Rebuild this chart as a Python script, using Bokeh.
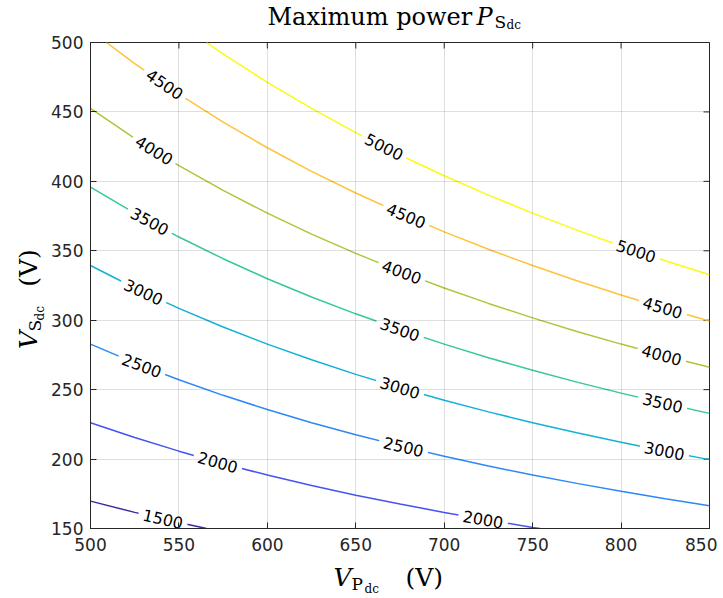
import math
import numpy as np
from bokeh.plotting import figure
from bokeh.layouts import column, row
from bokeh.models import FixedTicker, Range1d
from bokeh.core.properties import value
from bokeh.embed import file_html
from bokeh.resources import INLINE

# ---------------- data ----------------
levels = [1500, 2000, 2500, 3000, 3500, 4000, 4500, 5000]
level_colors = ["#3E26A8", "#4852F4", "#2E87F7", "#12B1D6",
                "#37C897", "#ABC739", "#FEC338", "#F9FB14"]

vp_full = [500, 525, 550, 575, 600, 625, 650, 675, 700, 725, 750, 775, 800, 825, 850]

vp_1500 = [500, 525, 550, 565.6]
vs_1500 = [169.7, 161.6, 154.3, 150.0]
vp_2000 = [500, 525, 550, 575, 600, 625, 650, 675, 700, 725, 750, 754.1]
vs_2000 = [226.2, 215.5, 205.7, 196.7, 188.5, 181.0, 174.0, 167.6, 161.6, 156.0, 150.8, 150.0]
vs_2500 = [282.8, 269.3, 257.1, 245.9, 235.7, 226.2, 217.5, 209.5, 202.0, 195.0, 188.5, 182.5, 176.8, 171.4, 166.4]
vs_3000 = [339.4, 323.2, 308.5, 295.1, 282.8, 271.5, 261.0, 251.4, 242.4, 234.0, 226.2, 218.9, 212.1, 205.7, 199.6]
vs_3500 = [395.9, 377.1, 359.9, 344.3, 329.9, 316.7, 304.6, 293.3, 282.8, 273.0, 263.9, 255.4, 247.5, 240.0, 232.9]
vs_4000 = [452.5, 430.9, 411.3, 393.5, 377.1, 362.0, 348.1, 335.2, 323.2, 312.1, 301.7, 291.9, 282.8, 274.2, 266.2]
vp_4500 = [509.0, 525, 550, 575, 600, 625, 650, 675, 700, 725, 750, 775, 800, 825, 850]
vs_4500 = [500.0, 484.8, 462.8, 442.6, 424.2, 407.2, 391.6, 377.1, 363.6, 351.1, 339.4, 328.4, 318.2, 308.5, 299.4]
vp_5000 = [565.6, 575, 600, 625, 650, 675, 700, 725, 750, 775, 800, 825, 850]
vs_5000 = [500.0, 491.8, 471.3, 452.5, 435.1, 419.0, 404.0, 390.1, 377.1, 364.9, 353.5, 342.8, 332.7]

# inline contour labels: level and V_Pdc position
label_levels = [1500, 2000, 2500, 3000, 3500, 4000, 4500,
                5000, 4500, 4000, 3500, 3000, 2500, 2000,
                5000, 4500, 4000, 3500, 3000]
label_vp = [541, 572, 529, 530, 533.5, 536, 542,
            666, 678.5, 676, 675, 675, 677, 722,
            808.5, 823.5, 823, 823.5, 824.5]

x_ticks = [500, 550, 600, 650, 700, 750, 800, 850]
y_ticks = [150, 200, 250, 300, 350, 400, 450, 500]

lines = {
    1500: (vp_1500, vs_1500),
    2000: (vp_2000, vs_2000),
    2500: (vp_full, vs_2500),
    3000: (vp_full, vs_3000),
    3500: (vp_full, vs_3500),
    4000: (vp_full, vs_4000),
    4500: (vp_4500, vs_4500),
    5000: (vp_5000, vs_5000),
}

# ---------------- layout sizes (px) ----------------
TOTAL_W = 716
TOP_H = 32          # title strip
LEFT_W = 48         # y-label strip
FW, FH = 619, 486   # plot frame
BL, BR, BT, BB = 41, 8, 10, 30
P_W = BL + FW + BR
P_H = BT + FH + BB
BOT_H = 38          # x-label strip

X0, X1, Y0, Y1 = 500, 850, 150, 500
sx = FW / (X1 - X0)
sy = FH / (Y1 - Y0)
TICK = 6  # px, inward ticks

AX = "#262626"
SERIF = "DejaVu Serif"

# ---------------- main plot ----------------
p = figure(x_range=(X0, X1), y_range=(Y0, Y1),
           frame_width=FW, frame_height=FH,
           min_border_left=BL, min_border_right=BR,
           min_border_top=BT, min_border_bottom=BB,
           title=None, output_backend="svg", toolbar_location=None)
p.background_fill_color = "white"
p.border_fill_color = "white"
p.outline_line_color = AX
p.outline_line_width = 1

for ax in (p.xaxis[0], p.yaxis[0]):
    ax.major_tick_in = TICK
    ax.major_tick_out = 0
    ax.minor_tick_in = 0
    ax.minor_tick_out = 0
    ax.axis_line_color = AX
    ax.major_tick_line_color = AX
    ax.major_label_text_color = AX
    ax.major_label_text_font = "DejaVu Sans"
    ax.major_label_text_font_size = "17px"
p.xaxis[0].ticker = FixedTicker(ticks=x_ticks)
p.yaxis[0].ticker = FixedTicker(ticks=y_ticks)
p.xaxis[0].major_label_standoff = 9
p.yaxis[0].major_label_standoff = 7

p.xgrid.ticker = FixedTicker(ticks=x_ticks)
p.ygrid.ticker = FixedTicker(ticks=y_ticks)
p.grid.grid_line_color = AX
p.grid.grid_line_alpha = 0.15
p.grid.grid_line_width = 1
p.grid.level = "overlay"

# inward ticks on the top and right edges of the box (from the tick lists)
p.segment(x_ticks, [Y1] * len(x_ticks), x_ticks, [Y1 - TICK / sy] * len(x_ticks),
          line_color=AX, line_width=1)
p.segment([X1] * len(y_ticks), y_ticks, [X1 - TICK / sx] * len(y_ticks), y_ticks,
          line_color=AX, line_width=1)

for lev, col in zip(levels, level_colors):
    xs, ys = lines[lev]
    p.line(xs, ys, line_color=col, line_width=1.5)

lx, ly, la, lt = [], [], [], []
mx0, my0, mx1, my1 = [], [], [], []
HALF = 25  # px half-length of the gap in the line
for lev, xv in zip(label_levels, label_vp):
    xs = np.asarray(lines[lev][0], float)
    ys = np.asarray(lines[lev][1], float)
    yv = float(np.interp(xv, xs, ys))
    i = int(np.clip(np.searchsorted(xs, xv), 1, len(xs) - 1))
    slope = (ys[i] - ys[i - 1]) / (xs[i] - xs[i - 1])
    th = math.atan2(slope * sy, sx)
    lx.append(xv)
    ly.append(yv)
    la.append(th)
    lt.append(str(lev))
    dxh = HALF * math.cos(th) / sx
    dyh = HALF * math.sin(th) / sy
    mx0.append(xv - dxh)
    my0.append(yv - dyh)
    mx1.append(xv + dxh)
    my1.append(yv + dyh)

p.segment(mx0, my0, mx1, my1, line_color="white", line_width=14, line_cap="butt")
p.text(lx, ly, text=lt, angle=la,
       text_font=value("DejaVu Sans"), text_font_size=value("16px"),
       text_align="center", text_baseline="middle", text_color="#000000")


# ---------------- text strips (title and axis labels) ----------------
def strip(w, h):
    f = figure(width=w, height=h, x_range=Range1d(0, w), y_range=Range1d(h, 0),
               min_border=0, min_border_left=0, min_border_right=0,
               min_border_top=0, min_border_bottom=0,
               x_axis_location=None, y_axis_location=None, title=None,
               output_backend="svg", toolbar_location=None)
    f.grid.visible = False
    f.outline_line_color = None
    f.background_fill_color = "white"
    f.border_fill_color = "white"
    return f


MID = 0.36  # distance from baseline to the em-box middle, in em


def put(f, x, y, txt, size, italic=False):
    """horizontal text; (x, y): start of the text on its baseline, in strip px"""
    f.text([x], [y - MID * size], text=[txt],
           text_font=value(SERIF), text_font_size=value(f"{size}px"),
           text_font_style="italic" if italic else "normal",
           text_align="left", text_baseline="middle", text_color="#000000")


def put_v(f, xb, yc, txt, size, italic=False):
    """text reading upward; xb: baseline x, yc: centre of the text along y"""
    f.text([xb - MID * size], [yc], text=[txt], angle=math.pi / 2,
           text_font=value(SERIF), text_font_size=value(f"{size}px"),
           text_font_style="italic" if italic else "normal",
           text_align="center", text_baseline="middle", text_color="#000000")


# title: Maximum power P_{S_dc}
tfig = strip(TOTAL_W, TOP_H)
put(tfig, 267, 25, "Maximum power", 24)
put(tfig, 476, 25, "P", 24, italic=True)
put(tfig, 494, 27.5, "S", 17)
put(tfig, 506, 29, "dc", 12)

# x label: V_{P_dc} (V)   (strip starts at page y = TOP_H + P_H)
bfig = strip(TOTAL_W, BOT_H)
put(bfig, 333, 28, "V", 25, italic=True)
put(bfig, 351, 32, "P", 17)
put(bfig, 364, 35, "dc", 12)
put(bfig, 405, 28, "(V)", 25)

# y label: V_{S_dc} (V), reading upward (strip starts at page y = TOP_H)
lfig = strip(LEFT_W, P_H)
put_v(lfig, 37, 322, "V", 25, italic=True)
put_v(lfig, 41, 306.5, "S", 17)
put_v(lfig, 44, 293, "dc", 12)
put_v(lfig, 37, 244, "(V)", 25)

layout = column(tfig, row(lfig, p, spacing=0), bfig, spacing=0)

open("out.html", "w").write(file_html(layout, INLINE))
